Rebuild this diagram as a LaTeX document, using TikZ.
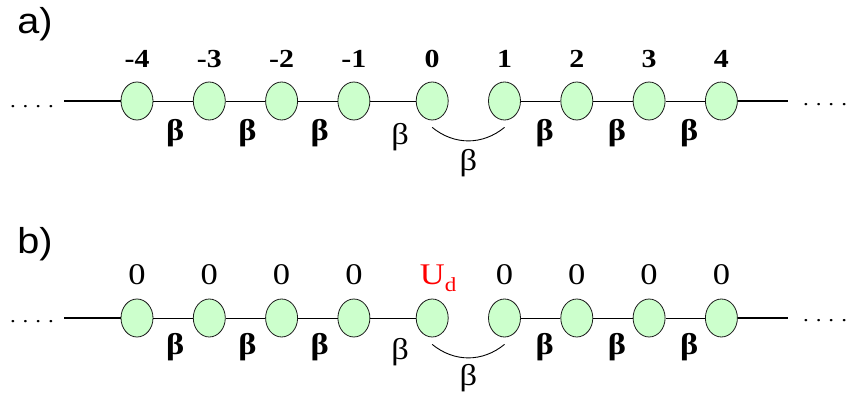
\documentclass[tikz,border=0pt]{standalone}
\usepackage{fontspec}
\setmainfont{Liberation Serif}[FakeStretch=1.15]
\newfontfamily\panelfont{Liberation Sans}[FakeStretch=1.1]
\usetikzlibrary{calc,positioning,shapes.geometric}
\definecolor{SiteGreen}{HTML}{CCFFCC}
\definecolor{SiteInk}{HTML}{1A1A1A}
\definecolor{DefectRed}{HTML}{FF0000}
\tikzset{
  site/.style={ellipse,draw=SiteInk,fill=SiteGreen,line width=0.8pt,
    minimum width=32pt,minimum height=38pt,inner sep=0pt},
  bond/.style={draw=black,line width=0.9pt},
  endbond/.style={draw=black,line width=1.4pt},
  index/.style={font=\fontsize{26}{26}\selectfont\bfseries,inner sep=0pt},
  energy/.style={font=\fontsize{30}{30}\selectfont,inner sep=0pt},
  hop/.style={font=\fontsize{30}{30}\selectfont\bfseries,inner sep=0pt},
  hopthin/.style={font=\fontsize{30}{30}\selectfont,inner sep=0pt},
  more/.style={font=\fontsize{20}{20}\selectfont,inner sep=0pt},
  panel/.style={font=\panelfont\fontsize{36}{36}\selectfont,inner sep=0pt}
}

\begin{document}
\begin{tikzpicture}[x=1pt,y=-1pt,node distance=39.5pt]
  \useasboundingbox (0,0) rectangle (849,403);

  % a) chain with site indices
  \node[panel] (pa) at (35,24) {a)};
  \node[site] (am4) at (137,101) {};
  \node[site,right=of am4] (am3) {};
  \node[site,right=of am3] (am2) {};
  \node[site,right=of am2] (am1) {};
  \node[site,right=45.5pt of am1] (a0) {};
  \node[site,right=of a0] (a1) {};
  \node[site,right=of a1] (a2) {};
  \node[site,right=of a2] (a3) {};
  \node[site,right=of a3] (a4) {};

  \node[index,above=14pt of am4,anchor=base] (nam4) {-4};
  \node[index,above=14pt of am3,anchor=base] (nam3) {-3};
  \node[index,above=14pt of am2,anchor=base] (nam2) {-2};
  \node[index,above=14pt of am1,anchor=base] (nam1) {-1};
  \node[index,above=14pt of a0,anchor=base] (na0) {0};
  \node[index,above=14pt of a1,anchor=base] (na1) {1};
  \node[index,above=14pt of a2,anchor=base] (na2) {2};
  \node[index,above=14pt of a3,anchor=base] (na3) {3};
  \node[index,above=14pt of a4,anchor=base] (na4) {4};

  \coordinate (lenda) at (64,101);
  \coordinate (renda) at (788,101);
  \node[more] (ldotsa) at (32,107) {.\hspace{7pt}.\hspace{7pt}.\hspace{7pt}.};
  \node[more] (rdotsa) at (825,105) {.\hspace{7pt}.\hspace{7pt}.\hspace{7pt}.};
  \draw[endbond] (lenda) -- (am4);
  \draw[bond] (am4) -- (am3);
  \draw[bond] (am3) -- (am2);
  \draw[bond] (am2) -- (am1);
  \draw[bond] (am1) -- (a0);
  \draw[bond] (a1) -- (a2);
  \draw[bond] (a2) -- (a3);
  \draw[bond] (a3) -- (a4);
  \draw[endbond] (a4) -- (renda);
  \coordinate (a0s) at ($(a0.south)+(0,7)$);
  \coordinate (a1s) at ($(a1.south)+(0,7)$);
  \draw[bond] (a0s) .. controls +(22,18) and +(-22,18) .. (a1s);

  \node[hop] (ha1) at ($(am4)!0.5!(am3)+(2,32)$) {β};
  \node[hop] (ha2) at ($(am3)!0.5!(am2)+(2,32)$) {β};
  \node[hop] (ha3) at ($(am2)!0.5!(am1)+(2,32)$) {β};
  \node[hopthin] (ha4) at ($(am1)!0.5!(a0)+(7,36)$) {β};
  \node[hopthin] (ha5) at ($(a0)!0.5!(a1)+(0,62)$) {β};
  \node[hop] (ha6) at ($(a1)!0.5!(a2)+(4,32)$) {β};
  \node[hop] (ha7) at ($(a2)!0.5!(a3)+(4,32)$) {β};
  \node[hop] (ha8) at ($(a3)!0.5!(a4)+(4,32)$) {β};

  % b) chain with site energies
  \node[panel] (pb) at (35,244) {b)};
  \node[site] (bm4) at (137,318) {};
  \node[site,right=of bm4] (bm3) {};
  \node[site,right=of bm3] (bm2) {};
  \node[site,right=of bm2] (bm1) {};
  \node[site,right=45.5pt of bm1] (b0) {};
  \node[site,right=of b0] (b1) {};
  \node[site,right=of b1] (b2) {};
  \node[site,right=of b2] (b3) {};
  \node[site,right=of b3] (b4) {};

  \node[energy,above=14pt of bm4,anchor=base] (ebm4) {0};
  \node[energy,above=14pt of bm3,anchor=base] (ebm3) {0};
  \node[energy,above=14pt of bm2,anchor=base] (ebm2) {0};
  \node[energy,above=14pt of bm1,anchor=base] (ebm1) {0};
  \node[energy,text=DefectRed,above=14pt of b0,anchor=base,xshift=6pt] (eb0)
    {U\raisebox{-7pt}{\fontsize{20}{20}\selectfont d}};
  \node[energy,above=14pt of b1,anchor=base] (eb1) {0};
  \node[energy,above=14pt of b2,anchor=base] (eb2) {0};
  \node[energy,above=14pt of b3,anchor=base] (eb3) {0};
  \node[energy,above=14pt of b4,anchor=base] (eb4) {0};

  \coordinate (lendb) at (64,318);
  \coordinate (rendb) at (788,318);
  \node[more] (ldotsb) at (32,322) {.\hspace{7pt}.\hspace{7pt}.\hspace{7pt}.};
  \node[more] (rdotsb) at (825,321) {.\hspace{7pt}.\hspace{7pt}.\hspace{7pt}.};
  \draw[endbond] (lendb) -- (bm4);
  \draw[bond] (bm4) -- (bm3);
  \draw[bond] (bm3) -- (bm2);
  \draw[bond] (bm2) -- (bm1);
  \draw[bond] (bm1) -- (b0);
  \draw[bond] (b1) -- (b2);
  \draw[bond] (b2) -- (b3);
  \draw[bond] (b3) -- (b4);
  \draw[endbond] (b4) -- (rendb);
  \coordinate (b0s) at ($(b0.south)+(0,7)$);
  \coordinate (b1s) at ($(b1.south)+(0,7)$);
  \draw[bond] (b0s) .. controls +(22,18) and +(-22,18) .. (b1s);

  \node[hop] (hb1) at ($(bm4)!0.5!(bm3)+(2,29)$) {β};
  \node[hop] (hb2) at ($(bm3)!0.5!(bm2)+(2,29)$) {β};
  \node[hop] (hb3) at ($(bm2)!0.5!(bm1)+(2,29)$) {β};
  \node[hopthin] (hb4) at ($(bm1)!0.5!(b0)+(7,34)$) {β};
  \node[hopthin] (hb5) at ($(b0)!0.5!(b1)+(0,60)$) {β};
  \node[hop] (hb6) at ($(b1)!0.5!(b2)+(4,29)$) {β};
  \node[hop] (hb7) at ($(b2)!0.5!(b3)+(4,29)$) {β};
  \node[hop] (hb8) at ($(b3)!0.5!(b4)+(4,29)$) {β};
\end{tikzpicture}
\end{document}
